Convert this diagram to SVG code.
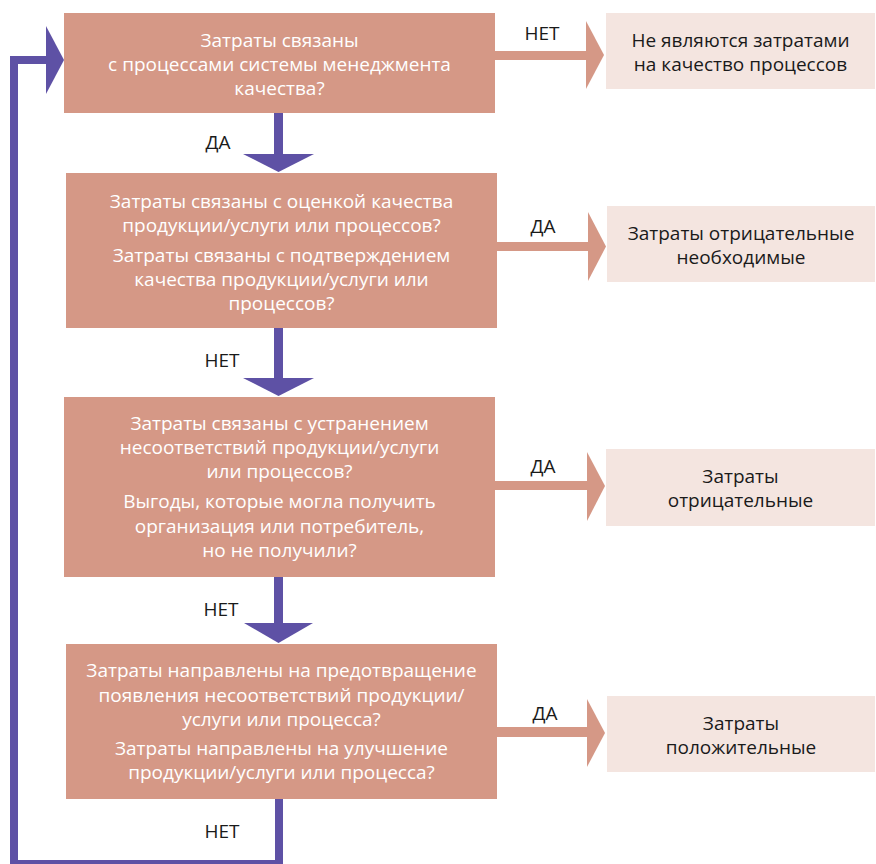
<svg xmlns="http://www.w3.org/2000/svg" width="876" height="864" viewBox="0 0 876 864">
<style>
.q{fill:#D59886}
.r{fill:#F4E5E0}
.p{fill:#5E51A5}
.wt{font-family:"Open Sans","Noto Sans",sans-serif;font-size:19px;fill:#FFFFFF;text-anchor:middle}
.bt{font-family:"Open Sans","Noto Sans",sans-serif;font-size:19px;fill:#1A1A1A;text-anchor:middle}
.lb{font-family:"Open Sans","Noto Sans",sans-serif;font-size:19px;fill:#1A1A1A;text-anchor:middle}
</style>
<rect width="876" height="864" fill="#FFFFFF"/>
<g id="connectors">
  <path d="M279,799 V864 H14 V60 H47" fill="none" stroke="#5E51A5" stroke-width="8"/>
  <polygon class="p" points="46,26 64,60 46,94"/>
  <rect class="p" x="274" y="113" width="9" height="42"/>
  <polygon class="p" points="243,154 314,154 278.5,172"/>
  <rect class="p" x="274" y="328" width="9" height="51"/>
  <polygon class="p" points="243,378 314,378 278.5,396"/>
  <rect class="p" x="274" y="577" width="9" height="47"/>
  <polygon class="p" points="244,623 313,623 278.5,643"/>
  <rect class="q" x="494" y="51" width="93" height="9"/>
  <polygon class="q" points="586,21 604,55 586,89"/>
  <rect class="q" x="496" y="242" width="93" height="9"/>
  <polygon class="q" points="588,212 606,246.5 588,281"/>
  <rect class="q" x="494" y="481" width="94" height="9"/>
  <polygon class="q" points="587,452 605,486 587,521"/>
  <rect class="q" x="496" y="727" width="92" height="10"/>
  <polygon class="q" points="587,699 605,733 587,767"/>
  <text class="lb" x="542" y="40">НЕТ</text>
  <text class="lb" x="218" y="149">ДА</text>
  <text class="lb" x="543" y="233">ДА</text>
  <text class="lb" x="222" y="367">НЕТ</text>
  <text class="lb" x="543" y="473">ДА</text>
  <text class="lb" x="221" y="616">НЕТ</text>
  <text class="lb" x="545" y="720">ДА</text>
  <text class="lb" x="222" y="838">НЕТ</text>
</g>
<g id="q1">
  <rect class="q" x="64" y="13" width="431" height="100"/>
  <text class="wt" x="279.5" y="47">Затраты связаны</text>
  <text class="wt" x="279.5" y="71">с процессами системы менеджмента</text>
  <text class="wt" x="279.5" y="95">качества?</text>
</g>
<g id="q2">
  <rect class="q" x="66" y="173" width="431" height="155"/>
  <text class="wt" x="281.5" y="208">Затраты связаны с оценкой качества</text>
  <text class="wt" x="281.5" y="232">продукции/услуги или процессов?</text>
  <text class="wt" x="281.5" y="262">Затраты связаны с подтверждением</text>
  <text class="wt" x="281.5" y="286">качества продукции/услуги или</text>
  <text class="wt" x="281.5" y="310">процессов?</text>
</g>
<g id="q3">
  <rect class="q" x="64" y="397" width="431" height="180"/>
  <text class="wt" x="279.5" y="430">Затраты связаны с устранением</text>
  <text class="wt" x="279.5" y="454">несоответствий продукции/услуги</text>
  <text class="wt" x="279.5" y="478">или процессов?</text>
  <text class="wt" x="279.5" y="508">Выгоды, которые могла получить</text>
  <text class="wt" x="279.5" y="533">организация или потребитель,</text>
  <text class="wt" x="279.5" y="557">но не получили?</text>
</g>
<g id="q4">
  <rect class="q" x="66" y="644" width="431" height="155"/>
  <text class="wt" x="281.5" y="677">Затраты направлены на предотвращение</text>
  <text class="wt" x="281.5" y="702">появления несоответствий продукции/</text>
  <text class="wt" x="281.5" y="726">услуги или процесса?</text>
  <text class="wt" x="281.5" y="755">Затраты направлены на улучшение</text>
  <text class="wt" x="281.5" y="779">продукции/услуги или процесса?</text>
</g>
<g id="r1">
  <rect class="r" x="606" y="13" width="269" height="76"/>
  <text class="bt" x="740.5" y="47">Не являются затратами</text>
  <text class="bt" x="740.5" y="71">на качество процессов</text>
</g>
<g id="r2">
  <rect class="r" x="607" y="206" width="268" height="76"/>
  <text class="bt" x="741" y="239.5">Затраты отрицательные</text>
  <text class="bt" x="741" y="263.5">необходимые</text>
</g>
<g id="r3">
  <rect class="r" x="606" y="449" width="269" height="77"/>
  <text class="bt" x="740.5" y="483">Затраты</text>
  <text class="bt" x="740.5" y="507">отрицательные</text>
</g>
<g id="r4">
  <rect class="r" x="607" y="696" width="268" height="76"/>
  <text class="bt" x="741" y="729.5">Затраты</text>
  <text class="bt" x="741" y="753.5">положительные</text>
</g>
</svg>
